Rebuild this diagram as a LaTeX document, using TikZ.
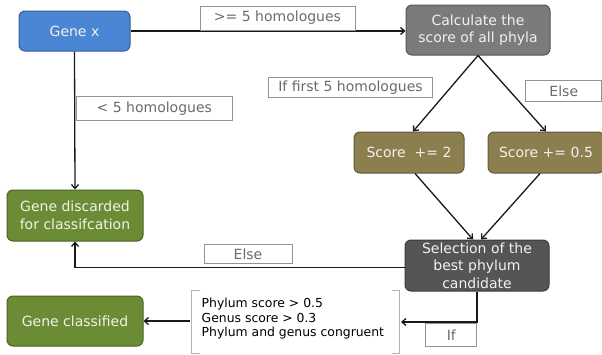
\documentclass[tikz,border=0pt]{standalone}
\usepackage{fontspec}
\setmainfont{DejaVu Sans}
\usepackage{xcolor}
\usetikzlibrary{arrows.meta}
\definecolor{geneblue}{HTML}{4A86D4}
\definecolor{calcgray}{HTML}{7B7B7B}
\definecolor{scoreolive}{HTML}{8B7F4F}
\definecolor{selgray}{HTML}{555555}
\definecolor{genegreen}{HTML}{6B8C35}
\definecolor{boxtext}{HTML}{F2F2EA}
\tikzset{
  box/.style={rounded corners=6pt, draw=#1!70!black, fill=#1, text=boxtext,
    align=center, line width=1pt, inner sep=0pt, font=\fontsize{14}{17.5}\selectfont},
  lbl/.style={draw=gray!85, fill=white, text=black!58, line width=1pt, inner sep=0pt,
    font=\fontsize{14}{16}\selectfont},
  link/.style={line width=1.3pt, black!90, ->}
}
\begin{document}
\begin{tikzpicture}[x=1pt,y=-1pt, >={Straight Barb[length=4pt,width=7pt]}]
    \useasboundingbox (0,0) rectangle (602,354);
    %KOTAK
    \node[box=geneblue, minimum width=111, minimum height=40] (genex) at (74.5,31) {Gene x};
    \node[box=calcgray, minimum width=144, minimum height=50] (calc) at (478,30) {Calculate the\\score of all phyla};
    \node[box=scoreolive, minimum width=110, minimum height=41] (scoretwo) at (409,152.5) {Score\ \ += 2};
    \node[box=scoreolive, minimum width=116, minimum height=41] (scorehalf) at (546,152.5) {Score += 0.5};
    \node[box=selgray, minimum width=144, minimum height=51] (select) at (477,265.5) {Selection of the\\best phylum\\candidate};
    \node[box=genegreen, minimum width=136, minimum height=51] (discard) at (75,215.5) {Gene discarded\\for classifcation};
    \node[box=genegreen, minimum width=136, minimum height=50] (classed) at (75,321) {Gene classified};
    %SYARAT
    \node[font=\fontsize{12.4}{14.5}\selectfont, align=left, inner sep=0pt, anchor=west] (rules) at (201.5,319) {Phylum score > 0.5\\Genus score > 0.3\\Phylum and genus congruent};
    \draw[gray!60, line width=0.8pt] (200,290) -- (191,290) -- (191,353) -- (200,353);
    \draw[gray!60, line width=0.8pt] (392,290) -- (399,290) -- (399,353) -- (392,353);
    \coordinate (rulesL) at (190,321);
    \coordinate (rulesR) at (401,322);
    %PANAH
    \draw[link] (genex.east) -- (genex.east -| calc.west);
    \draw[link] (genex.south) -- (discard.north);
    \draw[link] (calc.south) -- ([xshift=4]scoretwo.north);
    \draw[link] (calc.south) -- (scorehalf.north);
    \draw[link] ([xshift=6]scoretwo.south) -- ([xshift=-4]select.north);
    \draw[link] ([xshift=-6]scorehalf.south) -- ([xshift=4]select.north);
    \draw[link] ([yshift=-2]select.west) -| (discard.south);
    \draw[link] (select.south) |- (rulesR);
    \draw[link] (rulesL) -- (classed.east);
    %LABEL
    \node[lbl, minimum width=155, minimum height=24] (lgeq) at (277.5,18) {>= 5 homologues};
    \node[lbl, minimum width=156, minimum height=24] (llt) at (154.3,108.8) {< 5 homologues};
    \node[lbl, minimum width=164, minimum height=20] (lfirst) at (350.5,87.5) {If first 5 homologues};
    \node[lbl, minimum width=76, minimum height=21] (lelsetop) at (563.8,90.8) {Else};
    \node[lbl, minimum width=88, minimum height=19] (lelse) at (248,254) {Else};
    \node[lbl, minimum width=51, minimum height=23] (lif) at (451.3,335) {If};
\end{tikzpicture}
\end{document}
